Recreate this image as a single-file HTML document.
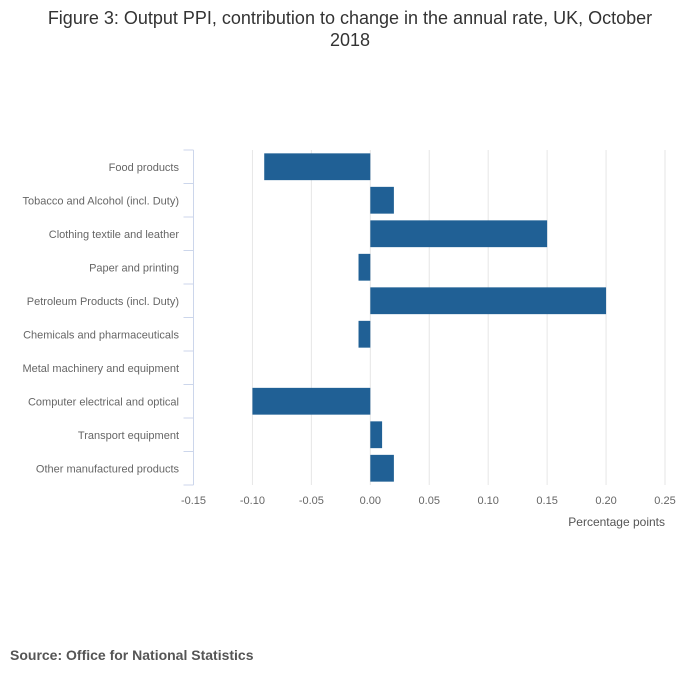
<!DOCTYPE html>
<html><head><meta charset="utf-8"><style>
body{margin:0;background:#fff;width:700px;height:682px;overflow:hidden;font-family:"Liberation Sans",sans-serif;}
svg text{font-family:"Liberation Sans",sans-serif;}
</style></head><body>
<svg id="chart" width="700" height="682" xmlns="http://www.w3.org/2000/svg">
<text x="350" y="24" text-anchor="middle" font-size="18" fill="#333">Figure 3: Output PPI, contribution to change in the annual rate, UK, October</text>
<text x="350" y="46" text-anchor="middle" font-size="18" fill="#333">2018</text>
<g id="grid"></g><g id="bars"></g><g id="axes"></g>
<text x="665" y="526" text-anchor="end" font-size="12" fill="#555">Percentage points</text>
<text x="10" y="660" font-size="14" font-weight="bold" fill="#555">Source: Office for National Statistics</text>
</svg>
<script>
const categories=["Food products","Tobacco and Alcohol (incl. Duty)","Clothing textile and leather","Paper and printing","Petroleum Products (incl. Duty)","Chemicals and pharmaceuticals","Metal machinery and equipment","Computer electrical and optical","Transport equipment","Other manufactured products"];
const values=[-0.09,0.02,0.15,-0.01,0.2,-0.01,0,-0.1,0.01,0.02];
const ticks=[-0.15,-0.10,-0.05,0.00,0.05,0.10,0.15,0.20,0.25];
const NS="http://www.w3.org/2000/svg";
const x0=193.5,x1=665,plotTop=150,plotBottom=485,xmin=-0.15,xmax=0.25;
function xs(v){return x0+(v-xmin)/(xmax-xmin)*(x1-x0);}
const band=(plotBottom-plotTop)/categories.length;
function ys(i){return plotTop+i*band;}
function mk(t,a,p){const e=document.createElementNS(NS,t);for(const k in a)e.setAttribute(k,a[k]);p.appendChild(e);return e;}
const g=document.getElementById('grid'),b=document.getElementById('bars'),ax=document.getElementById('axes');
ticks.forEach(t=>{
 if(t!==xmin){const l=mk('line',{x1:xs(t),x2:xs(t),y1:plotTop,y2:plotBottom,stroke:'#e6e6e6','stroke-width':1},g);
 
 }
 const tx=mk('text',{x:xs(t),y:504,'text-anchor':'middle','font-size':11,fill:'#666'},ax);
 tx.textContent=t.toFixed(2);
 
 
});
const al=mk('line',{x1:x0,x2:x0,y1:plotTop,y2:plotBottom,stroke:'#ccd6eb','stroke-width':1},ax);


for(let i=0;i<=categories.length;i++){
 const tk=mk('line',{x1:x0-10,x2:x0,y1:ys(i),y2:ys(i),stroke:'#ccd6eb','stroke-width':1},ax);
 
 
}
categories.forEach((c,i)=>{
 const tx=mk('text',{x:179,y:ys(i)+band/2+4,'text-anchor':'end','font-size':11,fill:'#666'},ax);
 tx.textContent=c;
 
 
 const v=values[i];
 const r=mk('rect',{x:Math.min(xs(v),xs(0)),y:ys(i)+band*0.1,width:Math.abs(xs(v)-xs(0)),height:band*0.8,fill:'#206095'},b);
 
 
});
</script>
</body></html>
